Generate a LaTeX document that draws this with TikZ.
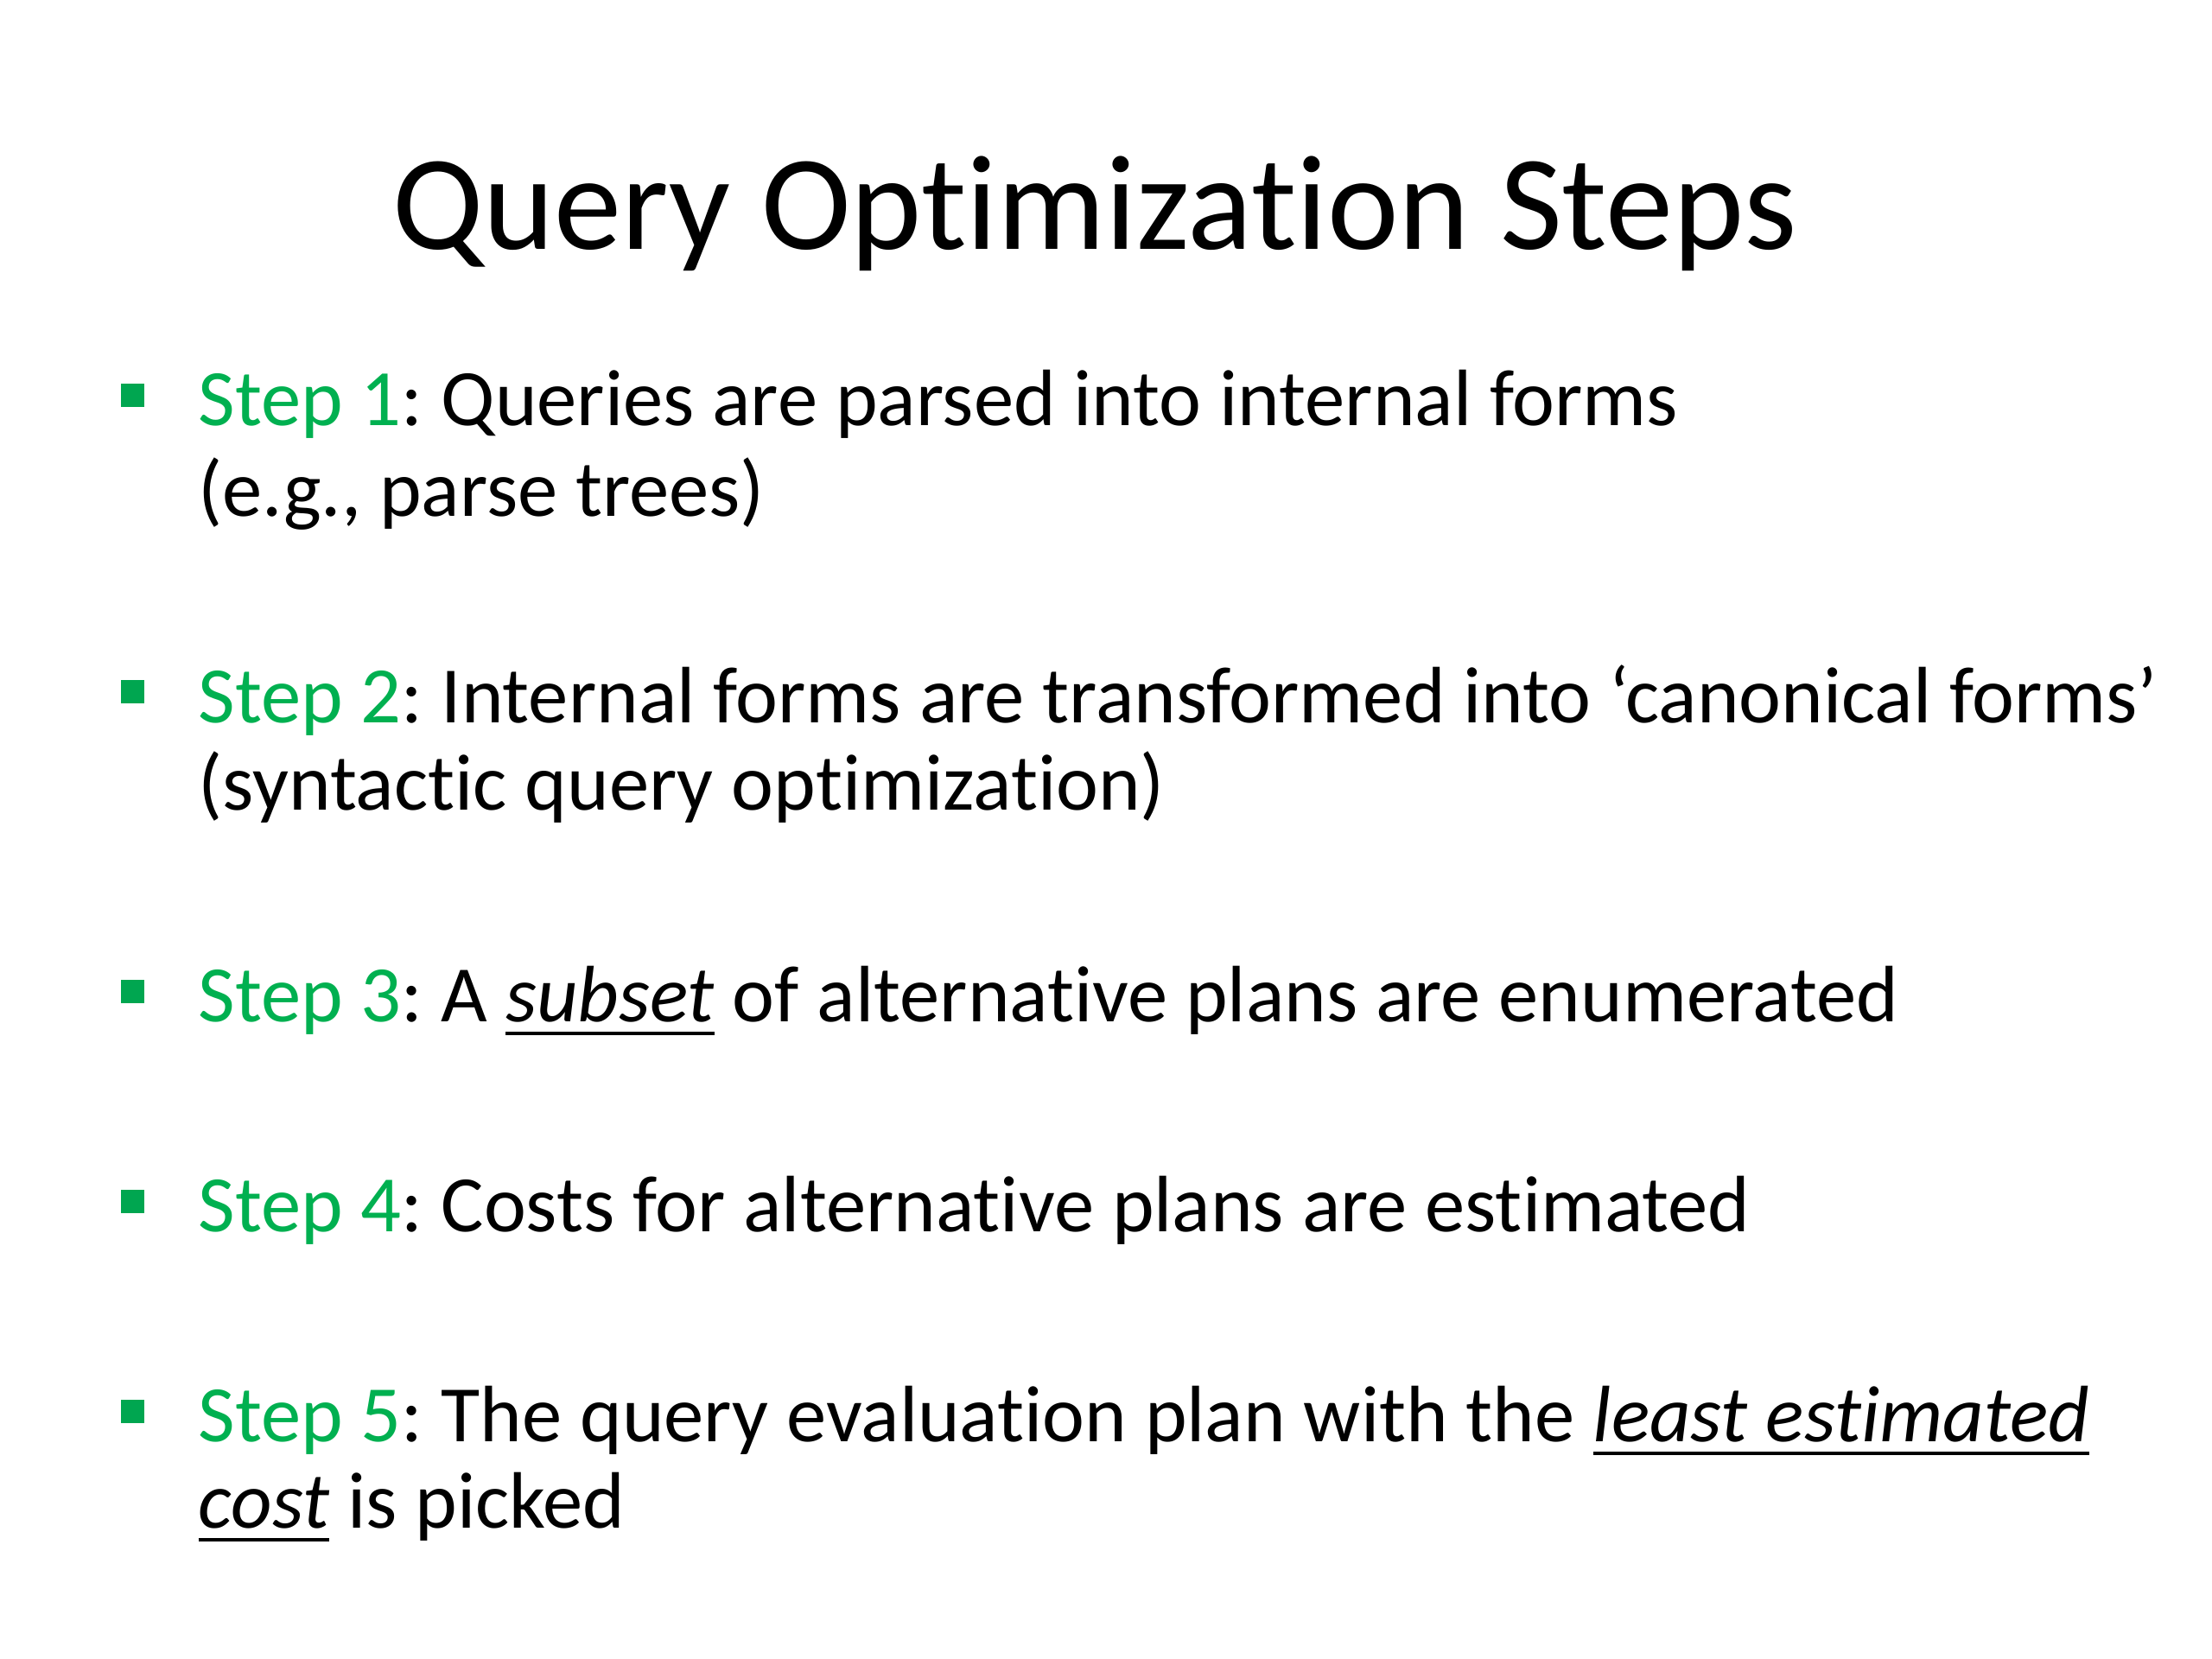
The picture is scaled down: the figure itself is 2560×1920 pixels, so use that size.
\documentclass[tikz,border=0pt]{standalone}
\usepackage{fontspec}
\setmainfont[Ligatures={NoCommon}]{Carlito}
\definecolor{stepgreen}{HTML}{00B050}
\definecolor{bulletgreen}{HTML}{00A650}
\newcommand{\stp}[1]{\textcolor{stepgreen}{Step #1}}
\newsavebox{\ulbox}
\newcommand{\ul}[1]{\sbox{\ulbox}{\textit{#1}}\rlap{\rule[-4.6pt]{\wd\ulbox}{1.3pt}}\usebox{\ulbox}}
\frenchspacing
\begin{document}
\frenchspacing
\begin{tikzpicture}[x=0.28125pt,y=-0.28125pt,
  body/.style={anchor=base west,inner sep=0pt,font=\fontsize{26.05}{32}\selectfont},
  bul/.style={fill=bulletgreen,draw=none,minimum size=27*0.28125pt,inner sep=0pt}]
\useasboundingbox (0,0) rectangle (2560,1920);
\fill[white] (0,0) rectangle (2560,1920);
\node[anchor=base,inner sep=0pt,font=\fontsize{44}{52}\selectfont] (title) at (1267,289) {Query Optimization Steps};
% bullets
\node[bul] (b1) at (153.5,458) {};
\node[bul] (b2) at (153.5,801) {};
\node[bul] (b3) at (153.5,1147) {};
\node[bul] (b4) at (153.5,1390) {};
\node[bul] (b5) at (153.5,1633) {};
% text
\node[body] (s1a) at (229,493) {\stp{1}: Queries are parsed into internal forms};
\node[body] (s1b) at (229,598) {(e.g., parse trees)};
\node[body] (s2a) at (229,836) {\stp{2}: Internal forms are transformed into ‘canonical forms’};
\node[body] (s2b) at (229,937) {(syntactic query optimization)};
\node[body] (s3a) at (229,1182) {\stp{3}: A \ul{subset} of alternative plans are enumerated};
\node[body] (s4a) at (229,1425) {\stp{4}: Costs for alternative plans are estimated};
\node[body] (s5a) at (229,1668) {\stp{5}: The query evaluation plan with the \ul{least estimated}};
\node[body] (s5b) at (229,1768) {\ul{cost} is picked};
\end{tikzpicture}
\end{document}
